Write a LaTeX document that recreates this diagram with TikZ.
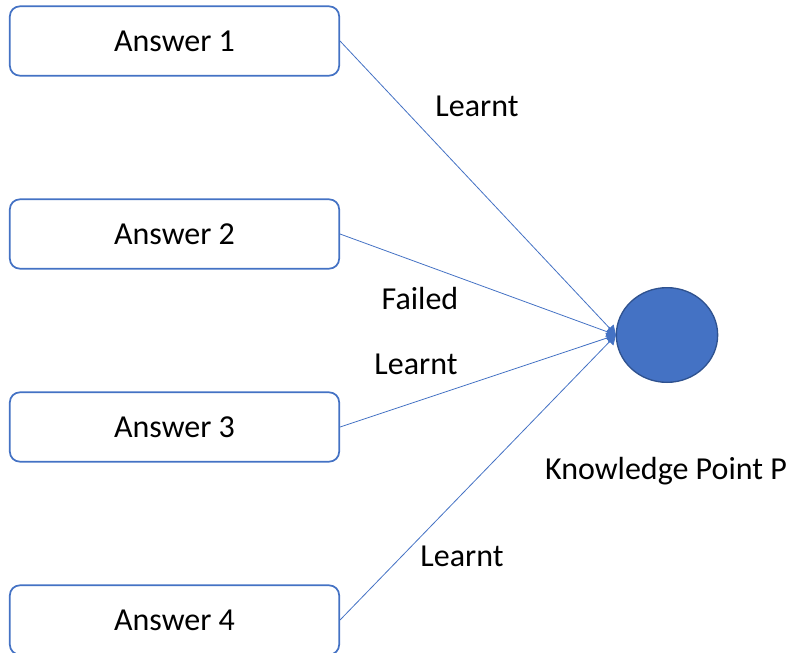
\documentclass[tikz,border=0pt]{standalone}
\usepackage{fontspec}
\setmainfont{Carlito}
\usetikzlibrary{arrows.meta,shapes.geometric}
\definecolor{officeblue}{HTML}{4472C4}
\definecolor{darkblue}{HTML}{2F528F}
\begin{document}
\begin{tikzpicture}[x=0.75pt,y=-0.75pt,
  every node/.style={font=\fontsize{24}{28}\selectfont},
  answerbox/.style={draw=officeblue,line width=1.3pt,rounded corners=7.5pt,
    minimum width=247pt,minimum height=52pt,inner sep=0pt,fill=white},
  link/.style={draw=officeblue,line width=0.6pt,-{Triangle[length=7pt,width=8pt]}},
  lbl/.style={inner sep=0pt}]
\useasboundingbox (0,0) rectangle (790,653);
\node[answerbox] (a1) at (174.5,41) {Answer 1};
\node[answerbox] (a2) at (174.5,234) {Answer 2};
\node[answerbox] (a3) at (174.5,427) {Answer 3};
\node[answerbox] (a4) at (174.5,620) {Answer 4};
\node[ellipse,draw=darkblue,fill=officeblue,line width=1pt,minimum width=76pt,minimum height=71pt,inner sep=0pt] (kp) at (667,335) {};
\coordinate (tip) at (616,335);
\draw[link] (a1.east) -- (tip);
\draw[link] (a2.east) -- (tip);
\draw[link] (a3.east) -- (tip);
\draw[link] (a4.east) -- (tip);
\node[lbl] (l1) at (477,106) {Learnt};
\node[lbl] (l2) at (420,299) {Failed};
\node[lbl] (l3) at (416,364) {Learnt};
\node[lbl] (l4) at (462,556) {Learnt};
\node[lbl] (kpl) at (666,471) {Knowledge Point P};
\end{tikzpicture}
\end{document}
